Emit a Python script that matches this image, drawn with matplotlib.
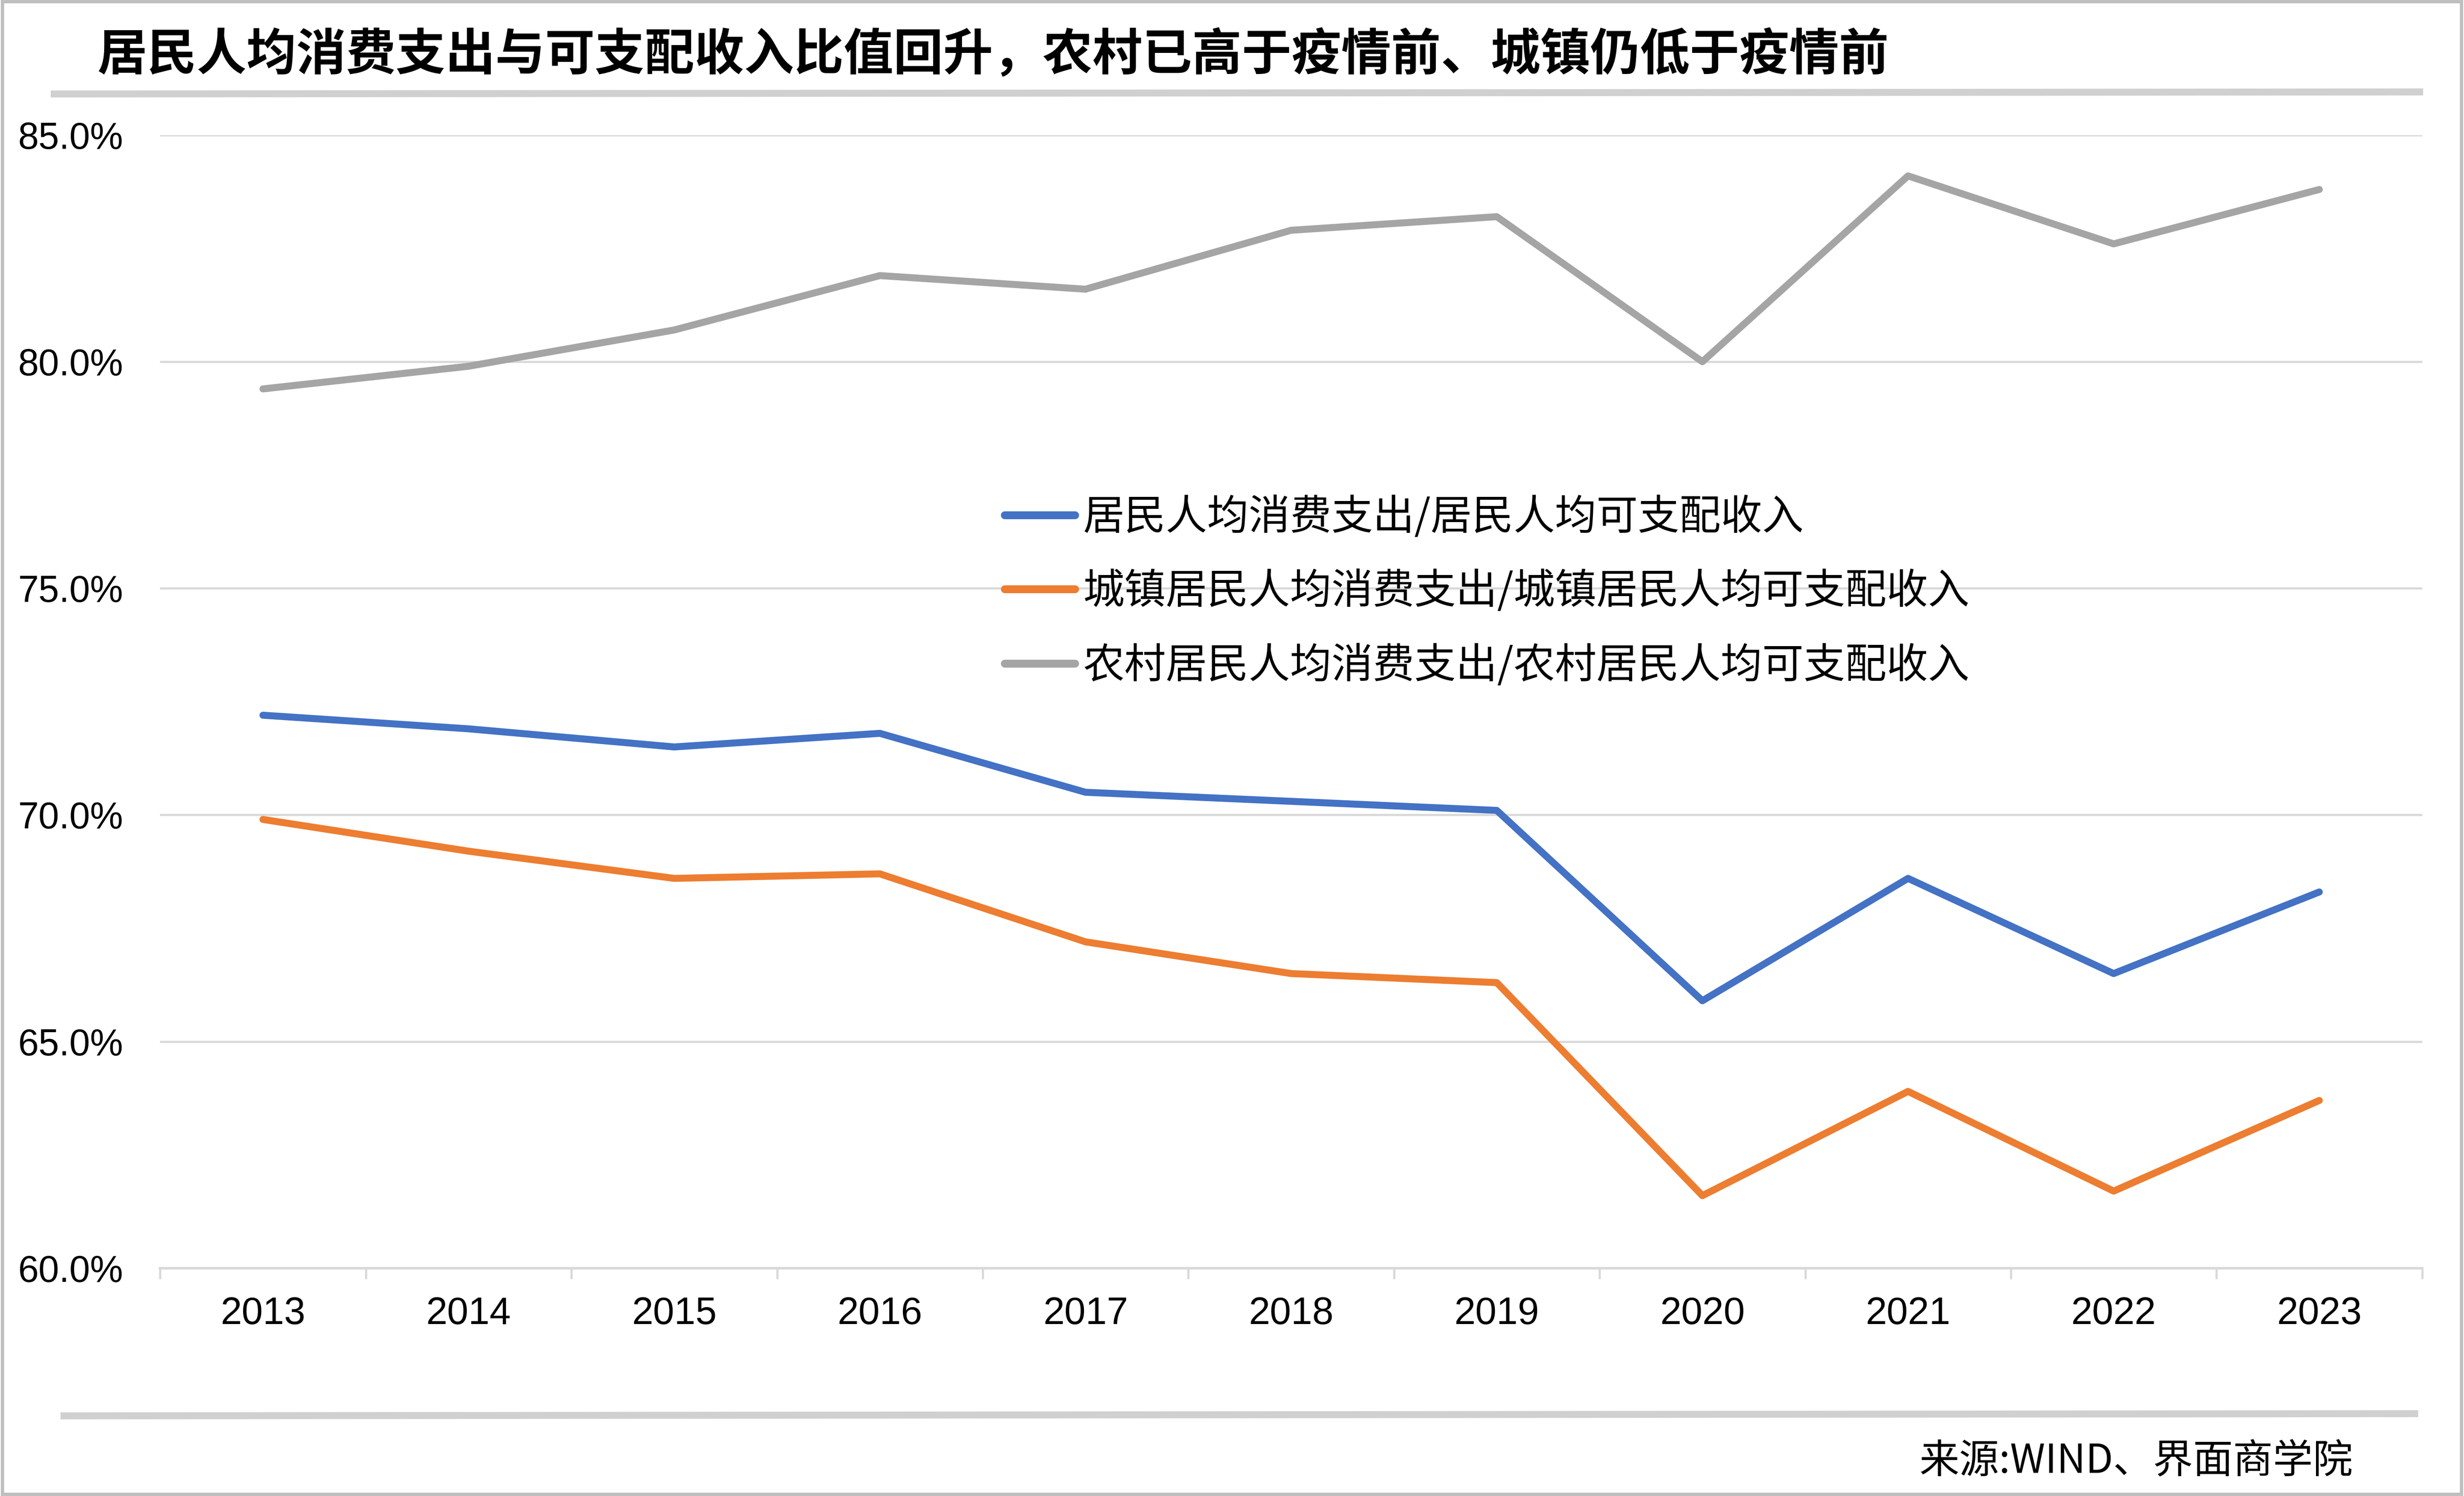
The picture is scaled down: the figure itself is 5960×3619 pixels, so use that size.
import matplotlib
matplotlib.use("Agg")
import matplotlib.pyplot as plt
from matplotlib.lines import Line2D
from matplotlib.patches import Rectangle
from matplotlib.ticker import FixedLocator, PercentFormatter

plt.rcParams["font.family"] = ["Noto Sans CJK SC", "DejaVu Sans"]

years = ["2013", "2014", "2015", "2016", "2017", "2018",
         "2019", "2020", "2021", "2022", "2023"]
national = [72.2, 71.9, 71.5, 71.8, 70.5, 70.3, 70.1, 65.9, 68.6, 66.5, 68.3]
urban = [69.9, 69.2, 68.6, 68.7, 67.2, 66.5, 66.3, 61.6, 63.9, 61.7, 63.7]
rural = [79.4, 79.9, 80.7, 81.9, 81.6, 82.9, 83.2, 80.0, 84.1, 82.6, 83.8]

labels = [
    "居民人均消费支出/居民人均可支配收入",
    "城镇居民人均消费支出/城镇居民人均可支配收入",
    "农村居民人均消费支出/农村居民人均可支配收入",
]
colors = ["#4472C4", "#ED7D31", "#A5A5A5"]

title = "居民人均消费支出与可支配收入比值回升，农村已高于疫情前、城镇仍低于疫情前"
source = "来源:WIND、界面商学院"

W, H, DPI = 5960, 3619, 380
fig = plt.figure(figsize=(W / DPI, H / DPI), dpi=DPI)
ax = fig.add_axes([0.065, 0.1523, 0.918, 0.7574])

x = list(range(len(years)))
for vals, lab, c in zip([national, urban, rural], labels, colors):
    ax.plot(x, vals, color=c, lw=3.2, label=lab,
            solid_capstyle="round", solid_joinstyle="round")

ax.set_xlim(-0.5, len(years) - 0.5)
ax.set_ylim(60, 85)
ax.set_yticks([60, 65, 70, 75, 80, 85])
ax.yaxis.set_major_formatter(PercentFormatter(decimals=1))
ax.grid(axis="y", color="#D9D9D9", lw=1.0)
ax.set_axisbelow(True)

ax.set_xticks(x)
ax.set_xticklabels(years)
ax.xaxis.set_minor_locator(FixedLocator([i - 0.5 for i in range(len(years) + 1)]))
ax.tick_params(axis="x", which="major", length=0, pad=13, labelsize=17.5)
ax.tick_params(axis="x", which="minor", length=5, width=1.0, color="#D9D9D9")
ax.tick_params(axis="y", length=0, pad=17, labelsize=17)
for lbl in ax.get_xticklabels() + ax.get_yticklabels():
    lbl.set_family(["Liberation Sans", "DejaVu Sans"])

for s in ["top", "right", "left"]:
    ax.spines[s].set_visible(False)
ax.spines["bottom"].set_color("#D9D9D9")
ax.spines["bottom"].set_linewidth(1.2)

handles = [Line2D([], [], color=c, lw=3.6, solid_capstyle="round") for c in colors]
fig.legend(handles, labels, loc="upper left", bbox_to_anchor=(0.3925, 0.6933),
           frameon=False, fontsize=19, handlelength=1.7, handletextpad=0.2,
           labelspacing=0.76)

fig.text(0.0395, 0.963, title, fontsize=22.8, fontweight="bold",
         ha="left", va="center", color="black")
fig.text(0.955, 0.023, source, fontsize=18.3, ha="right", va="center",
         color="black")

fig.add_artist(Line2D([0.022, 0.982], [1 - 59.8 / 952, 1 - 58.5 / 952],
                      transform=fig.transFigure, color="#D0D0D0", lw=3.2))
fig.add_artist(Line2D([0.026, 0.980], [1 - 901 / 952, 1 - 899.6 / 952],
                      transform=fig.transFigure, color="#D0D0D0", lw=3.2))
fig.add_artist(Rectangle((0.001, 0.001), 0.998, 0.998, transform=fig.transFigure,
                         fill=False, edgecolor="#BFBFBF", lw=1.5))

fig.savefig("out.png", dpi=DPI)
